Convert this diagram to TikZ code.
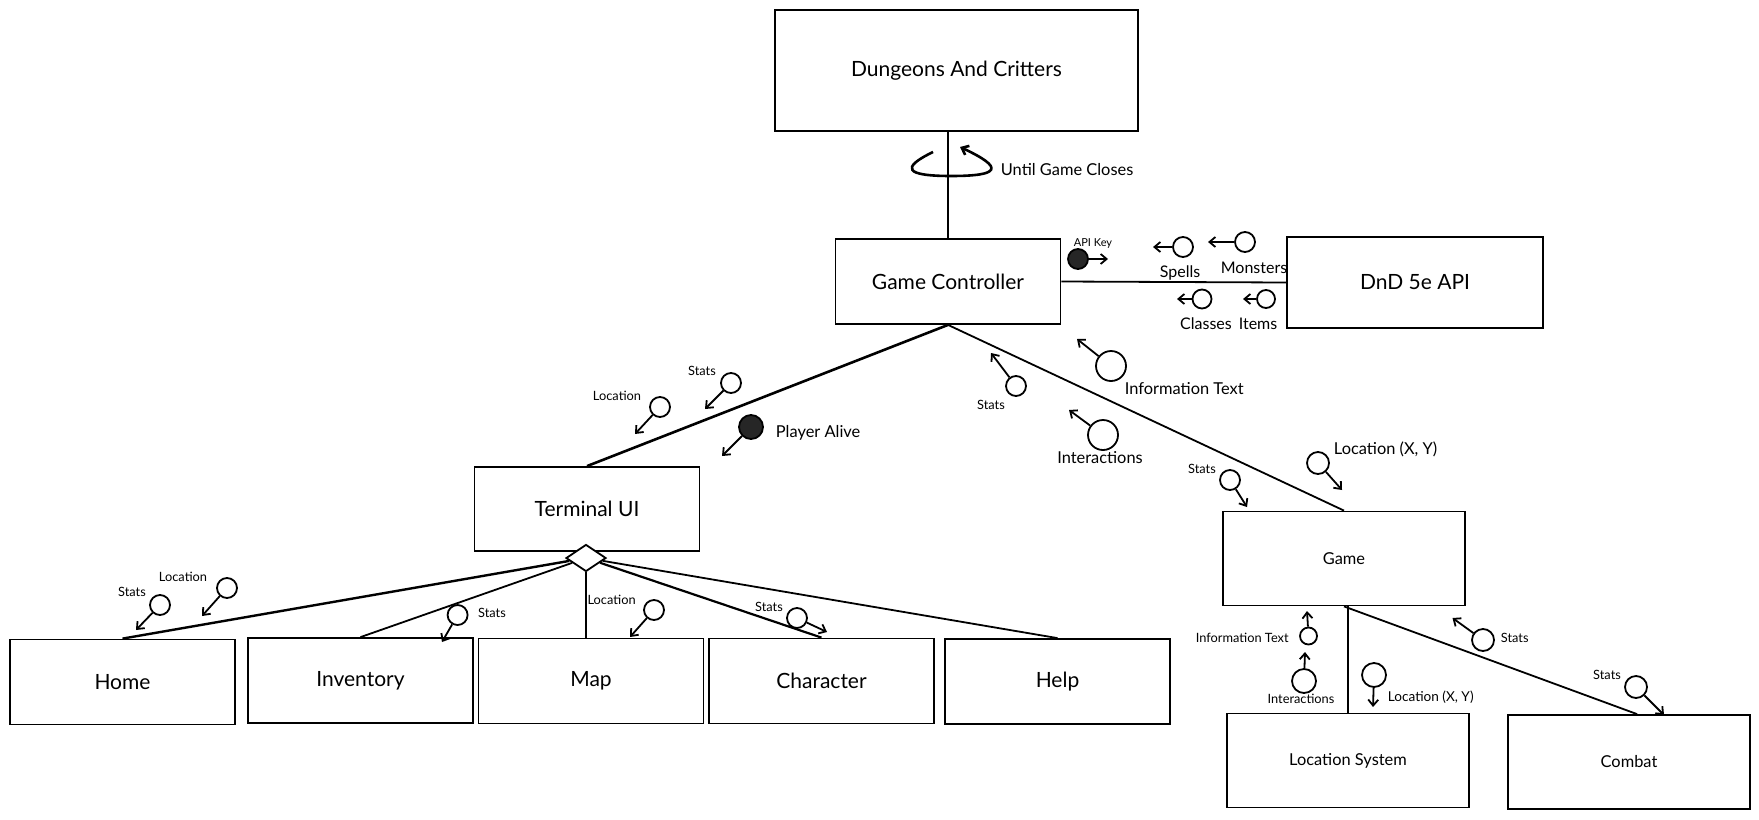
\documentclass[tikz,border=0pt]{standalone}
\usepackage{fontspec}
\setmainfont{Lato}
\usetikzlibrary{shapes.geometric,arrows.meta}

\begin{document}
\begin{tikzpicture}[x=0.5pt, y=-0.5pt, line width=0.9pt,
  box/.style={draw, minimum width=112.5pt, minimum height=42.5pt, font=\fontsize{10.5}{12}\selectfont},
  sub box/.style={draw, minimum width=121pt, minimum height=47pt, font=\fontsize{8.2}{10}\selectfont},
  port/.style={circle, draw, fill=white, inner sep=0pt, minimum size=10pt},
  dot/.style={port, fill=black!85},
  flow/.style={-{Straight Barb[length=3pt, width=5pt]}},
  lbl/.style={font=\fontsize{8.2}{10}\selectfont, inner sep=1pt},
  api lbl/.style={font=\fontsize{8}{10}\selectfont, inner sep=1pt},
  small lbl/.style={font=\fontsize{6.4}{8}\selectfont, inner sep=1pt}]
\useasboundingbox (0,0) rectangle (1759,819);

% components
\node[box, minimum width=181.5pt, minimum height=60.5pt] (dac) at (956.5,70.5) {Dungeons And Critters};
\node[box] (gc) at (948,281.5) {Game Controller};
\node[box, minimum width=128pt, minimum height=45.5pt] (api) at (1415,282.5) {DnD 5e API};
\node[box, minimum height=42pt] (tui) at (587,509) {Terminal UI};
\node[sub box] (game) at (1344,558.5) {Game};
\node[box] (home) at (122.5,682) {Home};
\node[box] (inv) at (360.5,680.5) {Inventory};
\node[box] (map) at (591,681) {Map};
\node[box] (char) at (821.5,681) {Character};
\node[box] (help) at (1057.5,681.5) {Help};
\node[sub box] (locsys) at (1348,760.5) {Location System};
\node[sub box] (combat) at (1629,762) {Combat};
\node[diamond, draw, fill=white, minimum width=20pt, minimum height=13.5pt, inner sep=0pt] (dia) at (586,558) {};

% links
\draw (gc.north) -- (gc.north |- dac.south);
\draw (gc.east) -- (api.west);
\draw[line width=1.3pt] (gc.south) -- (tui.north);
\draw (gc.south) -- (game.north);
\draw[line width=1.2pt] (dia) -- (home.north);
\draw (dia) -- (inv.north);
\draw (dia.south) -- (dia.south |- map.north);
\draw[line width=1.1pt] (dia) -- (char.north);
\draw (dia) -- (help.north);
\draw (locsys.north) -- (locsys.north |- game.south);
\draw (game.south) -- ([xshift=4pt]combat.north);

% main loop
\draw[flow, line width=1.3pt] (933,152) .. controls (900,168) and (905,176) .. (951,176)
  .. controls (1000,176) and (1005,168) .. (960,147);
\node[lbl, anchor=west] (until) at (998,170) {Until Game Closes};

% interfaces
\foreach \n/\c/\t/\r in {
  s1/{731,383}/{705,409}/10pt, s2/{660,407}/{635,434}/10pt,
  s3/{1016,386}/{991,353}/10pt, s4/{1111,366}/{1077,339}/15pt,
  s5/{1103,435}/{1069,410}/15pt, s6/{1230,480}/{1247,507}/10pt,
  s7/{1318,463}/{1342,490}/11pt,
  sp/{1183,247}/{1153,247}/10pt, mo/{1245,242}/{1208,242}/10pt,
  cl/{1202,299}/{1177,299}/9.5pt, it/{1266,299}/{1243,299}/9pt,
  h1/{160,605}/{136,630}/10pt, h2/{227,588}/{202,616}/10pt,
  i1/{457.6,615}/{442,642}/10pt, m1/{654,610}/{630,637}/10pt,
  c1/{797,618}/{827,632}/10pt,
  g1/{1308.5,636}/{1307,611}/8.5pt, g2/{1304,681}/{1305,652}/12pt,
  g3/{1374,675}/{1373,707}/12pt, g4/{1483,640}/{1452.5,618}/11pt,
  g5/{1636,687}/{1664,715}/11pt} {
  \node[port, minimum size=\r] (\n) at (\c) {};
  \coordinate (\n-t) at (\t);
  \draw[flow] (\n) -- (\n-t);
}
\node[dot, minimum size=12pt] (alive) at (751,427) {};
\coordinate (alive-t) at (722,456);
\draw[flow] (alive) -- (alive-t);
\node[dot] (key) at (1078,259) {};
\coordinate (key-t) at (1108,259);
\draw[flow] (key) -- (key-t);

% labels
\node[small lbl] (s1l) at (702,371) {Stats};
\node[small lbl] (s2l) at (617,396) {Location};
\node[lbl, anchor=west] (alivel) at (773,433) {Player Alive};
\node[small lbl] (s3l) at (991,405) {Stats};
\node[lbl, anchor=west] (s4l) at (1122,389) {Information Text};
\node[lbl] (s5l) at (1100,458) {Interactions};
\node[small lbl] (s6l) at (1202,469) {Stats};
\node[lbl, anchor=west] (s7l) at (1331,449) {Location (X, Y)};
\node[font=\fontsize{5.5}{7}\selectfont, inner sep=1pt] (keyl) at (1093,243) {API Key};
\node[api lbl] (spl) at (1180,273) {Spells};
\node[api lbl] (mol) at (1254,268) {Monsters};
\node[api lbl] (cll) at (1206,324) {Classes};
\node[api lbl] (itl) at (1258,324) {Items};
\node[small lbl] (h1l) at (132,592) {Stats};
\node[small lbl] (h2l) at (183,577) {Location};
\node[small lbl] (i1l) at (492,613) {Stats};
\node[small lbl] (m1l) at (611.6,600) {Location};
\node[small lbl] (c1l) at (769,607) {Stats};
\node[small lbl, anchor=east] (g1l) at (1291.5,638) {Information Text};
\node[small lbl] (g2l) at (1301,699) {Interactions};
\node[font=\fontsize{6.8}{8}\selectfont, inner sep=1pt, anchor=west] (g3l) at (1385,697) {Location (X, Y)};
\node[small lbl, anchor=west] (g4l) at (1498,638) {Stats};
\node[small lbl] (g5l) at (1607,675) {Stats};
\end{tikzpicture}
\end{document}
